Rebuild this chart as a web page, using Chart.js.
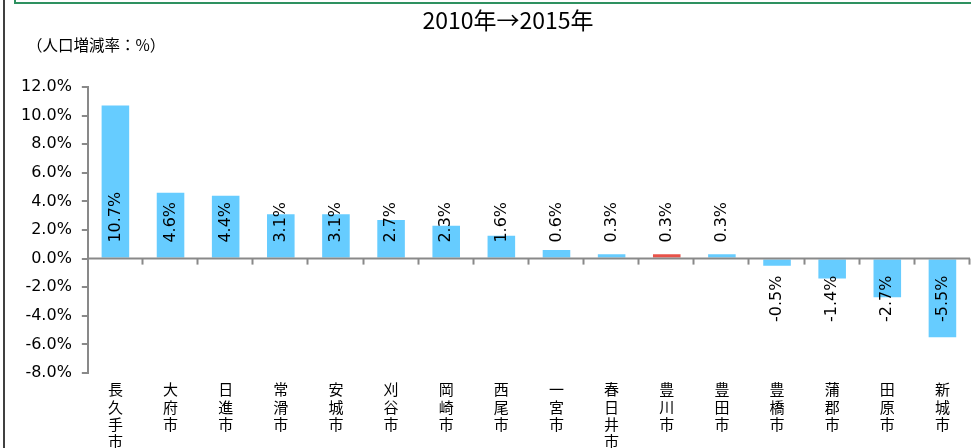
<!DOCTYPE html>
<html>
<head>
<meta charset="utf-8">
<script src="https://cdn.jsdelivr.net/npm/chart.js@4/dist/chart.umd.min.js"></script>
<style>
  html, body { margin: 0; padding: 0; background: #fff; overflow: hidden; }
  #wrap { width: 971px; height: 450px; position: relative; }
</style>
</head>
<body>
<div id="wrap"><canvas id="popChart"></canvas></div>
<script>
// 市町村名（縦書き用に1文字ずつ）
const cities = ['長久手市', '大府市', '日進市', '常滑市', '安城市', '刈谷市', '岡崎市', '西尾市',
  '一宮市', '春日井市', '豊川市', '豊田市', '豊橋市', '蒲郡市', '田原市', '新城市'];
// 人口増減率 2010年→2015年 (%)
const rates = [10.7, 4.6, 4.4, 3.1, 3.1, 2.7, 2.3, 1.6, 0.6, 0.3, 0.3, 0.3, -0.5, -1.4, -2.7, -5.5];
const highlight = '豊川市';
const yTicks = { min: -8, max: 12, step: 2 };

const BLUE = '#66CCFF';
const RED = '#E8534A';
const AXIS = '#898989';

const ctx = document.getElementById('popChart').getContext('2d');

// 枠線・タイトル・軸ラベル・0%ライン・データラベル
const decorations = {
    id: 'decorations',
    beforeDraw(chart) {
        const c = chart.ctx;
        c.save();
        c.strokeStyle = '#000';
        c.lineWidth = 1.5;
        c.beginPath(); c.moveTo(4, 0); c.lineTo(4, chart.height); c.stroke();
        c.strokeStyle = '#2E9160';
        c.lineWidth = 2;
        c.beginPath(); c.moveTo(15, 0); c.lineTo(15, 3); c.lineTo(chart.width, 3); c.stroke();

        c.fillStyle = '#000';
        c.textBaseline = 'middle';
        c.textAlign = 'center';
        c.font = '23px "Noto Sans CJK JP"';
        c.fillText('2010年→2015年', 508, 20);
        c.textAlign = 'left';
        c.font = '15.5px "Noto Sans CJK JP"';
        c.fillText('（人口増減率：%）', 27, 45);
        c.restore();
    },
    afterDatasetsDraw(chart) {
        const c = chart.ctx;
        const x = chart.scales.x, y = chart.scales.y;
        const zeroY = y.getPixelForValue(0);
        c.save();
        c.strokeStyle = AXIS;
        c.lineWidth = 2;
        c.beginPath(); c.moveTo(x.left, zeroY); c.lineTo(x.right, zeroY); c.stroke();
        const step = x.width / cities.length;
        for (let i = 1; i <= cities.length; i++) {
            const bx = Math.round(x.left + i * step) - 0.5;
            c.beginPath(); c.moveTo(bx, zeroY); c.lineTo(bx, zeroY + 6); c.stroke();
        }

        c.fillStyle = '#000';
        c.font = '16px "DejaVu Sans"';
        c.textBaseline = 'middle';
        chart.getDatasetMeta(0).data.forEach((bar, i) => {
            const v = rates[i];
            c.save();
            c.translate(bar.x, v >= 0 ? zeroY - 16 : zeroY + 17);
            c.rotate(-Math.PI / 2);
            c.textAlign = v >= 0 ? 'left' : 'right';
            c.fillText(v.toFixed(1) + '%', 0, 0);
            c.restore();
        });
        c.restore();
    }
};

new Chart(ctx, {
    type: 'bar',
    data: {
        labels: cities.map(n => n.split('')),
        datasets: [{
            data: rates,
            backgroundColor: cities.map(n => n === highlight ? RED : BLUE),
            barPercentage: 0.5,
            categoryPercentage: 1.0
        }]
    },
    options: {
        responsive: true,
        maintainAspectRatio: false,
        animation: false,
        layout: { padding: { top: 87, left: 11, right: 1, bottom: 0 } },
        plugins: {
            legend: { display: false },
            tooltip: { enabled: false }
        },
        scales: {
            x: {
                grid: { display: false },
                border: { display: false },
                ticks: {
                    color: '#000',
                    font: { family: '"Noto Sans CJK JP"', size: 15, lineHeight: 1.15 },
                    padding: 0,
                    maxRotation: 0,
                    autoSkip: false
                }
            },
            y: {
                min: yTicks.min,
                max: yTicks.max,
                border: { display: true, color: AXIS, width: 2 },
                grid: { drawOnChartArea: false, drawTicks: true, tickLength: 6, color: AXIS, lineWidth: 2 },
                ticks: {
                    stepSize: yTicks.step,
                    color: '#000',
                    padding: 10,
                    font: { family: '"DejaVu Sans"', size: 16 },
                    callback: v => v.toFixed(1) + '%'
                }
            }
        }
    },
    plugins: [decorations]
});
</script>
</body>
</html>
